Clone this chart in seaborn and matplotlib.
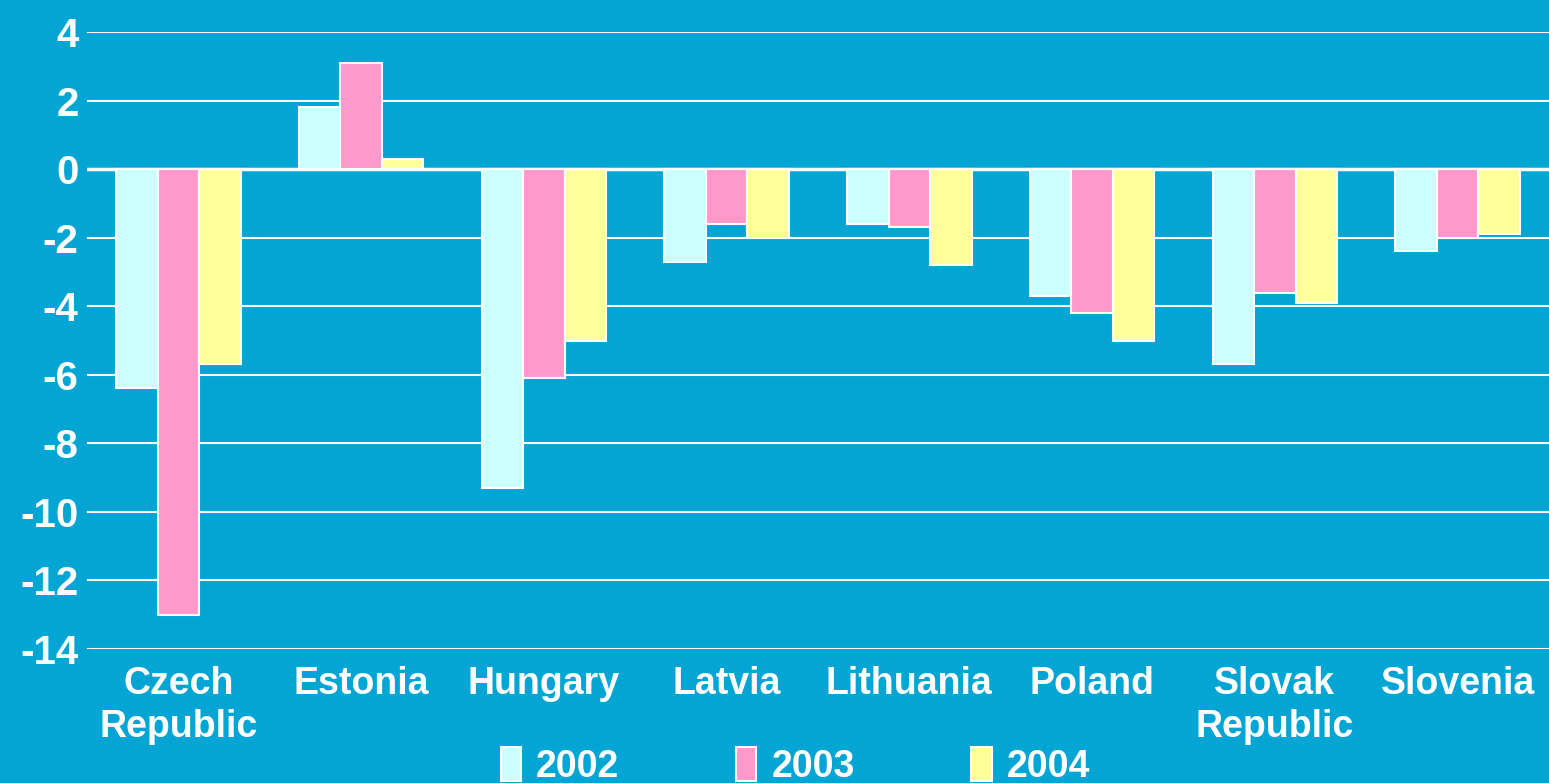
import pandas as pd
import seaborn as sns
import matplotlib.pyplot as plt

# values
countries = ["Czech\nRepublic", "Estonia", "Hungary", "Latvia", "Lithuania",
             "Poland", "Slovak\nRepublic", "Slovenia"]
years = ["2002", "2003", "2004"]
v2002 = [-6.4, 1.8, -9.3, -2.7, -1.6, -3.7, -5.7, -2.4]
v2003 = [-13.0, 3.1, -6.1, -1.6, -1.7, -4.2, -3.6, -2.0]
v2004 = [-5.7, 0.3, -5.0, -2.0, -2.8, -5.0, -3.9, -1.9]
colors = ["#CCFFFF", "#FF99CC", "#FFFF99"]
bg = "#02A5D3"

df = pd.DataFrame({
    "country": countries * 3,
    "year": [y for y in years for _ in countries],
    "value": v2002 + v2003 + v2004,
})

sns.set_theme(style="white")
plt.rcParams["font.family"] = ["Liberation Sans", "DejaVu Sans"]
plt.rcParams["font.weight"] = "bold"
plt.rcParams["axes.unicode_minus"] = False

fig = plt.figure(figsize=(15.49, 7.83), dpi=100, facecolor=bg)
ax = fig.add_axes([87 / 1549, 1 - 649 / 783, 1 - 87 / 1549, (649 - 32) / 783])
ax.set_facecolor(bg)

sns.barplot(data=df, x="country", y="value", hue="year", palette=colors,
            width=0.68, edgecolor="white", linewidth=1.5, saturation=1,
            ax=ax, zorder=3)

ax.set_ylim(-14, 4)
ax.set_yticks(range(-14, 5, 2))
ax.yaxis.grid(True, color="white", linewidth=1.5, zorder=0)
ax.axhline(0, color="white", linewidth=2.5, zorder=2)
ax.set_xlim(-0.5, 7.5)
for s in ax.spines.values():
    s.set_visible(False)
ax.tick_params(axis="y", length=0, labelcolor="white", labelsize=29, pad=6)
ax.tick_params(axis="x", length=0, labelcolor="white", labelsize=27, pad=12)
for t in ax.get_xticklabels():
    t.set_fontweight("bold")
    t.set_linespacing(1.25)
for t in ax.get_yticklabels():
    t.set_fontweight("bold")
ax.set_xlabel("")
ax.set_ylabel("")

leg = ax.legend(loc="center", bbox_to_anchor=(0.4845, -0.19), ncol=3, frameon=False,
                handlelength=0.55, handleheight=1.0,
                handletextpad=0.4, columnspacing=3.1,
                prop={"family": "Liberation Sans", "weight": "bold", "size": 27})
for t in leg.get_texts():
    t.set_color("white")

fig.savefig("out.png", dpi=100, facecolor=bg)
